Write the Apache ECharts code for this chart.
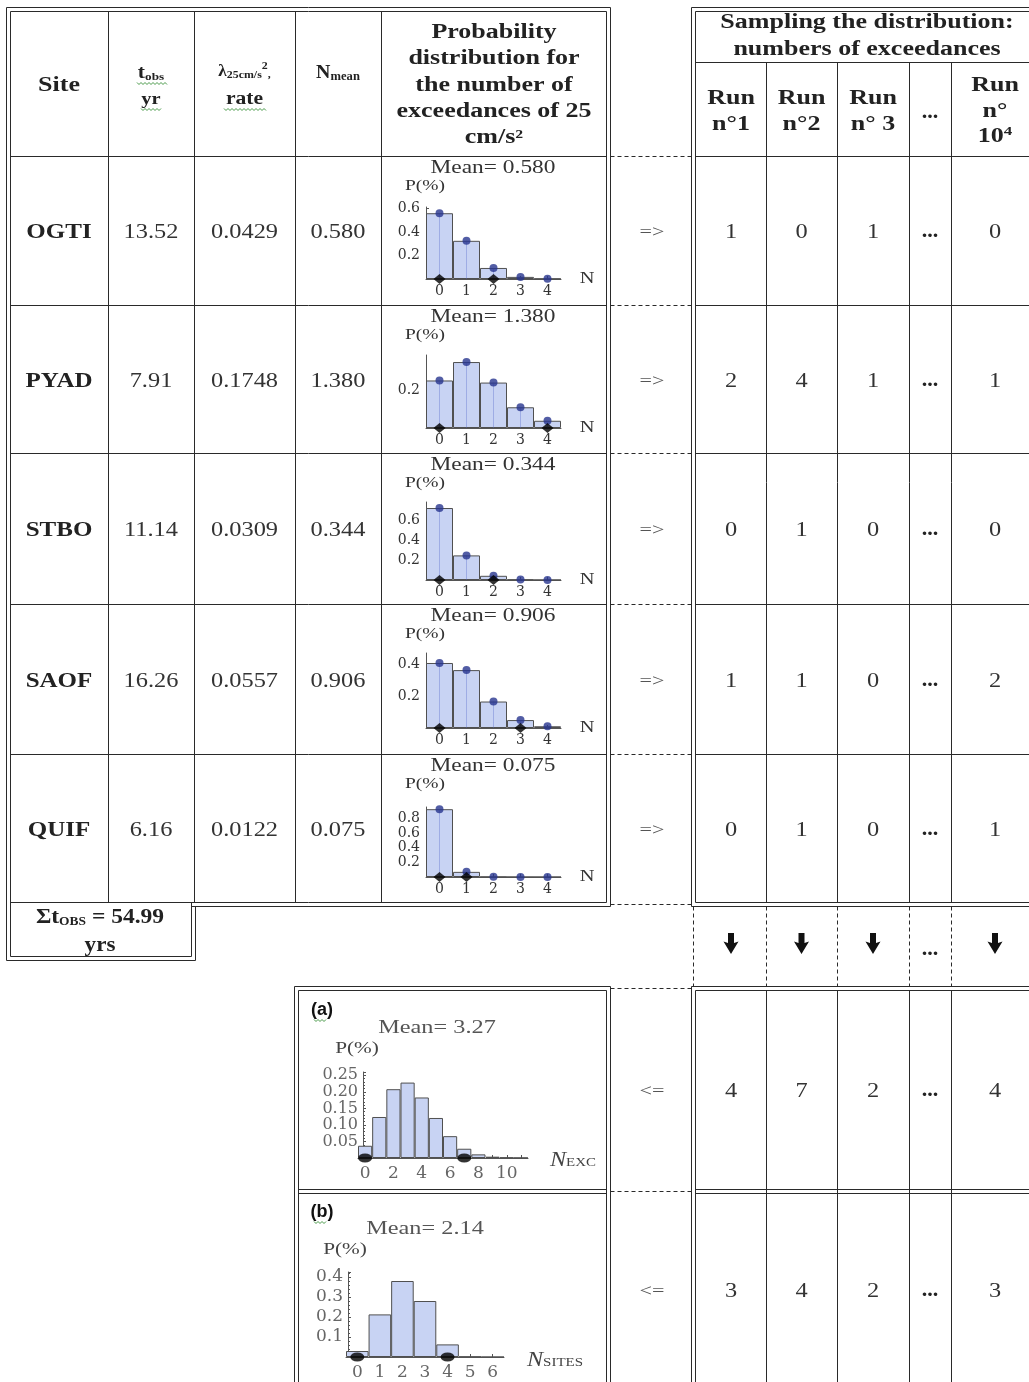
<!DOCTYPE html>
<html><head><meta charset="utf-8">
<script src="https://cdn.jsdelivr.net/npm/echarts@6/dist/echarts.min.js"></script>
<style>html,body{margin:0;padding:0;background:#fff}#c{width:1029px;height:1382px}</style>
</head><body><div id="c"></div>
<script>
// ---------------- DATA ----------------
const sites = ['OGTI', 'PYAD', 'STBO', 'SAOF', 'QUIF'];
const tObs = ['13.52', '7.91', '11.14', '16.26', '6.16'];
const rate25 = ['0.0429', '0.1748', '0.0309', '0.0557', '0.0122'];
const nMean = ['0.580', '1.380', '0.344', '0.906', '0.075'];
const nCategories = ['0', '1', '2', '3', '4'];
const probOGTI = [0.560, 0.325, 0.094, 0.018, 0.003];
const probPYAD = [0.250, 0.347, 0.239, 0.109, 0.038];
const probSTBO = [0.720, 0.246, 0.042, 0.005, 0.0005];
const probSAOF = [0.410, 0.365, 0.167, 0.050, 0.011];
const probQUIF = [0.925, 0.070, 0.003, 0.0002, 0];
const sampledOGTI = ['0', '2'];
const sampledPYAD = ['0', '4'];
const sampledSTBO = ['0', '2'];
const sampledSAOF = ['0', '3'];
const sampledQUIF = ['0', '1'];
const run1 = ['1', '2', '0', '1', '0'];
const run2 = ['0', '4', '1', '1', '1'];
const run3 = ['1', '1', '0', '0', '0'];
const run10k = ['0', '1', '0', '2', '1'];
const totalExcRuns = ['4', '7', '2', '4'];
const totalSitesRuns = ['3', '4', '2', '3'];
const sumTobs = '54.99';
const meanExc = '3.27';
const meanSites = '2.14';
const nExcCategories = ['0', '1', '2', '3', '4', '5', '6', '7', '8', '9', '10', '11'];
const probExc = [0.037, 0.124, 0.208, 0.228, 0.183, 0.121, 0.066, 0.028, 0.011, 0.004, 0.0015, 0.0005];
const sampledExc = ['0', '7'];
const nSitesCategories = ['0', '1', '2', '3', '4', '5', '6'];
const probSites = [0.030, 0.213, 0.380, 0.280, 0.063, 0.002, 0];
const sampledSites = ['0', '4'];

// ---------------- LAYOUT HELPERS ----------------
const LS = '"Liberation Serif"';
const G = [];
const mctx = document.createElement('canvas').getContext('2d');
function tw(t, font) { mctx.font = font; return mctx.measureText(t).width; }
function txt(s, x, y, font, o) {
  o = o || {};
  const al = o.align || 'center';
  G.push({ type: 'text', x: x, y: y, scaleX: o.sx || 1, z: 100, silent: true,
    style: { text: s, font: font, fill: o.fill || '#222', align: al, textAlign: al,
      verticalAlign: 'middle', textVerticalAlign: 'middle' } });
}
function seq(parts, cx, cy, sx, fill) {
  const ws = parts.map(p => tw(p[0], p[1]) * sx);
  const total = ws.reduce((a, b) => a + b, 0);
  let x = cx - total / 2;
  parts.forEach((p, i) => { txt(p[0], x, cy + (p[2] || 0), p[1], { sx: sx, align: 'left', fill: fill }); x += ws[i]; });
}
function ln(x1, y1, x2, y2, o) {
  o = o || {};
  G.push({ type: 'line', z: 90, silent: true, shape: { x1: x1, y1: y1, x2: x2, y2: y2 },
    style: { stroke: o.c || '#2a2a2a', lineWidth: o.w || 1, lineDash: o.dash || null } });
}
function wavy(x1, x2, y) {
  const pts = []; let k = 0;
  for (let x = x1; x <= x2; x += 2) { pts.push([x, y + (k % 2 ? 1.5 : -0.5)]); k++; }
  G.push({ type: 'polyline', z: 95, silent: true, shape: { points: pts }, style: { stroke: '#4a9a4a', lineWidth: 1, fill: null } });
}
function arrow(cx, cy) {
  G.push({ type: 'polygon', z: 95, silent: true, shape: { points: [
    [cx - 3, cy - 10], [cx + 3, cy - 10], [cx + 3, cy], [cx + 7.5, cy - 1.5], [cx, cy + 11], [cx - 7.5, cy - 1.5], [cx - 3, cy]] },
    style: { fill: '#111' } });
}
const DASH = [4, 3];

// ---------------- TABLE GEOMETRY ----------------
const rowLines = [156.5, 305.5, 453.5, 604.5, 754.5];
const rowTops = [156, 305, 453, 604, 754];
const rowCenters = [232.5, 381.5, 530.5, 681.5, 830.5];
const leftCols = [108.5, 194.5, 295.5, 381.5];
const rightCols = [766.5, 837.5, 909.5, 951.5];
const runCenters = [731, 801.5, 873, 995];
const R = 1030;

// left table
ln(6.5, 7.5, 610.5, 7.5); ln(10.5, 11.5, 606.5, 11.5);
ln(6.5, 7.5, 6.5, 960.5); ln(10.5, 11.5, 10.5, 956.5);
ln(610.5, 7.5, 610.5, 906.5); ln(606.5, 11.5, 606.5, 902.5);
ln(10.5, 902.5, 606.5, 902.5); ln(191.5, 906.5, 610.5, 906.5);
leftCols.forEach(x => ln(x, 11.5, x, 902.5));
rowLines.forEach(y => ln(10.5, y, 606.5, y));
// sum cell
ln(191.5, 902.5, 191.5, 956.5); ln(195.5, 906.5, 195.5, 960.5);
ln(10.5, 956.5, 191.5, 956.5); ln(6.5, 960.5, 195.5, 960.5);
// connectors
rowLines.concat([904.5, 988.5, 1191.5]).forEach(y => ln(610.5, y, 691.5, y, { dash: DASH }));
// right table
ln(691.5, 7.5, R, 7.5); ln(695.5, 11.5, R, 11.5);
ln(691.5, 7.5, 691.5, 906.5); ln(695.5, 11.5, 695.5, 902.5);
ln(695.5, 62.5, R, 62.5);
rightCols.forEach(x => ln(x, 62.5, x, 902.5));
rowLines.forEach(y => ln(695.5, y, R, y));
ln(695.5, 902.5, R, 902.5); ln(691.5, 906.5, R, 906.5);
// arrow section
[693.5].concat(rightCols).forEach(x => ln(x, 906.5, x, 986.5, { dash: DASH }));
// bottom right table
ln(691.5, 986.5, R, 986.5); ln(695.5, 990.5, R, 990.5);
ln(691.5, 986.5, 691.5, 1390); ln(695.5, 990.5, 695.5, 1390);
ln(695.5, 1189.5, R, 1189.5); ln(695.5, 1193.5, R, 1193.5);
rightCols.forEach(x => ln(x, 990.5, x, 1390));
// bottom left boxes
ln(294.5, 986.5, 610.5, 986.5); ln(298.5, 990.5, 606.5, 990.5);
ln(294.5, 986.5, 294.5, 1390); ln(298.5, 990.5, 298.5, 1390);
ln(610.5, 986.5, 610.5, 1390); ln(606.5, 990.5, 606.5, 1390);
ln(298.5, 1189.5, 606.5, 1189.5); ln(298.5, 1193.5, 606.5, 1193.5);

// ---------------- TEXTS ----------------
const HB = 'bold 20px ' + LS;
const NUM = '20px ' + LS;
txt('Site', 59, 86, HB, { sx: 1.3 });
seq([['t', 'bold 18px ' + LS, 0], ['obs', 'bold 11px ' + LS, 4]], 151, 73, 1.2);
wavy(137, 167, 83);
txt('yr', 151, 100, 'bold 17px ' + LS, { sx: 1.2 });
wavy(141, 162, 109);
seq([['λ', 'bold 16px ' + LS, 0], ['25cm/s', 'bold 11px ' + LS, 3], ['2', 'bold 11px ' + LS, -6], [',', 'bold 11px ' + LS, 3]], 244.5, 72, 1.08);
txt('rate', 244.5, 99, 'bold 18px ' + LS, { sx: 1.2 });
wavy(224, 266, 109);
seq([['N', 'bold 19px ' + LS, 0], ['mean', 'bold 12px ' + LS, 4]], 338, 73, 1.05);
['Probability', 'distribution for', 'the number of', 'exceedances of 25', 'cm/s²'].forEach((s, i) =>
  txt(s, 494, 33 + i * 26.2, HB, { sx: 1.3 }));
txt('Sampling the distribution:', 867, 23, HB, { sx: 1.3 });
txt('numbers of exceedances', 867, 50, HB, { sx: 1.3 });
const runHeads = ['n°1', 'n°2', 'n° 3'];
runHeads.forEach((s, i) => { txt('Run', runCenters[i], 99, HB, { sx: 1.3 }); txt(s, runCenters[i], 125, HB, { sx: 1.3 }); });
txt('...', 930, 113, HB, { sx: 1.1 });
txt('Run', 995, 86, HB, { sx: 1.3 });
txt('n°', 995, 112, HB, { sx: 1.3 });
seq([['10', HB, 0], ['4', 'bold 13px ' + LS, -5]], 995, 137, 1.3);

const runCols = [run1, run2, run3, run10k];
rowCenters.forEach((cy, i) => {
  txt(sites[i], 59, cy, 'bold 20px ' + LS, { sx: 1.25 });
  txt(tObs[i], 151, cy, NUM, { sx: 1.22, fill: '#333' });
  txt(rate25[i], 244.5, cy, NUM, { sx: 1.22, fill: '#333' });
  txt(nMean[i], 338, cy, NUM, { sx: 1.22, fill: '#333' });
  txt('=>', 652, cy, '17px ' + LS, { sx: 1.3, fill: '#555' });
  runCols.forEach((col, j) => txt(col[i], runCenters[j], cy, NUM, { sx: 1.22, fill: '#333' }));
  txt('...', 930, cy - 1, 'bold 20px ' + LS, { sx: 1.1 });
  const T = rowTops[i];
  txt('Mean= ' + nMean[i], 493, T + 12, '18px ' + LS, { sx: 1.3, fill: '#333' });
  txt('P(%)', 425, T + 30, '15px ' + LS, { sx: 1.3, fill: '#333' });
});
// sum cell
seq([['Σt', 'bold 21px ' + LS, 0], ['OBS', 'bold 12px ' + LS, 4], [' = ' + sumTobs, 'bold 21px ' + LS, 0]], 100, 918, 1.12);
txt('yrs', 100, 946, 'bold 21px ' + LS, { sx: 1.1 });
// arrows
runCenters.forEach(x => arrow(x, 943));
txt('...', 930, 950, 'bold 20px ' + LS, { sx: 1.1 });
// bottom rows
[[totalExcRuns, 1091.5], [totalSitesRuns, 1291.5]].forEach(([vals, cy]) => {
  txt('<=', 652, cy, '17px ' + LS, { sx: 1.3, fill: '#555' });
  vals.forEach((v, j) => txt(v, runCenters[j], cy, NUM, { sx: 1.22, fill: '#333' }));
  txt('...', 930, cy - 1, 'bold 20px ' + LS, { sx: 1.1 });
});
// (a)/(b) captions
txt('(a)', 322, 1010, 'bold 18px "Liberation Sans"', { fill: '#111' }); wavy(314, 326, 1020);
txt('Mean= ' + meanExc, 437, 1028, '18px ' + LS, { sx: 1.35, fill: '#555' });
txt('P(%)', 357, 1049, '17px ' + LS, { sx: 1.25, fill: '#444' });
seq([['N', 'italic 21px ' + LS, 0], ['EXC', '13px ' + LS, 3]], 573, 1160, 1.15, '#444');
txt('(b)', 322, 1212, 'bold 18px "Liberation Sans"', { fill: '#111' }); wavy(314, 326, 1222);
txt('Mean= ' + meanSites, 425, 1229, '18px ' + LS, { sx: 1.35, fill: '#555' });
txt('P(%)', 345, 1250, '17px ' + LS, { sx: 1.25, fill: '#444' });
seq([['N', 'italic 21px ' + LS, 0], ['SITES', '13px ' + LS, 3]], 555, 1360, 1.15, '#444');

// ---------------- CHARTS ----------------
const smallCharts = [
  { vals: probOGTI, marks: sampledOGTI, top: 207, height: 72, max: 0.613 },
  { vals: probPYAD, marks: sampledPYAD, top: 355, height: 73, max: 0.384 },
  { vals: probSTBO, marks: sampledSTBO, top: 502, height: 78, max: 0.78 },
  { vals: probSAOF, marks: sampledSAOF, top: 653, height: 75, max: 0.473 },
  { vals: probQUIF, marks: sampledQUIF, top: 807, height: 70, max: 0.955 }
];
smallCharts.forEach(c => txt('N', 587, c.top + c.height, '17px ' + LS, { sx: 1.2, fill: '#333' }));

const grids = [], xAxes = [], yAxes = [], series = [];
const BAR_FILL = '#c8d3f3', BAR_EDGE = '#505050';
function addChart(o) {
  const gi = grids.length;
  grids.push({ left: o.left, top: o.top, width: o.width, height: o.height, containLabel: false, outerBoundsMode: 'none' });
  xAxes.push({ type: 'category', gridIndex: gi, data: o.cats, boundaryGap: true,
    axisLine: { onZero: true, lineStyle: { color: '#555', width: 1 } },
    axisTick: { show: true, inside: true, length: 3, alignWithLabel: true, interval: 0, lineStyle: { color: '#555' } },
    axisLabel: { interval: o.labelInterval, margin: o.xMargin, fontFamily: 'DejaVu Serif', fontSize: o.xFont, color: o.labelColor },
    splitLine: { show: false } });
  xAxes.push({ type: 'category', gridIndex: gi, data: o.cats, show: false });
  yAxes.push({ type: 'value', gridIndex: gi, min: 0, max: o.max, interval: o.interval, offset: o.yOffset || 0,
    axisLine: { show: true, lineStyle: { color: '#555', width: 1 } },
    axisTick: { show: true, inside: true, length: 3, lineStyle: { color: '#555' } },
    minorTick: { show: !!o.minor, splitNumber: 5, length: 2, lineStyle: { color: '#555' } },
    axisLabel: { showMinLabel: false, showMaxLabel: false, margin: o.yMargin, fontFamily: 'DejaVu Serif', fontSize: o.yFont,
      color: o.labelColor, formatter: o.fmt },
    splitLine: { show: false } });
  const xi = gi * 2;
  series.push({ type: 'bar', xAxisIndex: xi, yAxisIndex: gi, data: o.vals, barCategoryGap: '0%', z: 2, silent: true,
    itemStyle: { color: BAR_FILL, borderColor: BAR_EDGE, borderWidth: 1 } });
  if (o.dots) {
    series.push({ type: 'bar', xAxisIndex: xi + 1, yAxisIndex: gi, data: o.vals, barWidth: 1, z: 3, silent: true,
      itemStyle: { color: 'rgba(80,100,200,0.35)' } });
    series.push({ type: 'scatter', xAxisIndex: xi, yAxisIndex: gi, data: o.vals, symbol: 'circle', symbolSize: 8, z: 4,
      silent: true, clip: false, itemStyle: { color: '#27358f' } });
  }
  series.push({ type: 'scatter', xAxisIndex: xi, yAxisIndex: gi, data: o.marks.map(m => [m, 0]), symbol: o.markSymbol,
    symbolSize: o.markSize, z: 5, silent: true, clip: false, itemStyle: { color: '#000' } });
}
smallCharts.forEach(c => addChart({
  cats: nCategories, vals: c.vals, marks: c.marks, left: 426, width: 135, top: c.top, height: c.height,
  max: c.max, interval: 0.2, labelInterval: 0, xMargin: 5, xFont: 14, yMargin: 6, yFont: 14,
  labelColor: '#333', fmt: v => v.toFixed(1), dots: true, markSymbol: 'diamond', markSize: [12, 10]
}));
addChart({ cats: nExcCategories, vals: probExc, marks: sampledExc, left: 358, width: 170, top: 1072, height: 86,
  max: 0.26, interval: 0.05, labelInterval: 1, xMargin: 7, xFont: 17, yMargin: 5, yFont: 16, yOffset: -5, minor: true,
  labelColor: '#666', fmt: v => v.toFixed(2), dots: false, markSymbol: 'circle', markSize: [14, 9] });
addChart({ cats: nSitesCategories, vals: probSites, marks: sampledSites, left: 346, width: 158, top: 1272, height: 85,
  max: 0.425, interval: 0.1, labelInterval: 0, xMargin: 7, xFont: 17, yMargin: 5, yFont: 17, yOffset: -2, minor: true,
  labelColor: '#666', fmt: v => v.toFixed(1), dots: false, markSymbol: 'circle', markSize: [14, 9] });

const chart = echarts.init(document.getElementById('c'), null, { renderer: 'canvas' });
chart.setOption({
  animation: false,
  backgroundColor: '#fff',
  grid: grids, xAxis: xAxes, yAxis: yAxes, series: series,
  graphic: { elements: G }
});
</script></body></html>
